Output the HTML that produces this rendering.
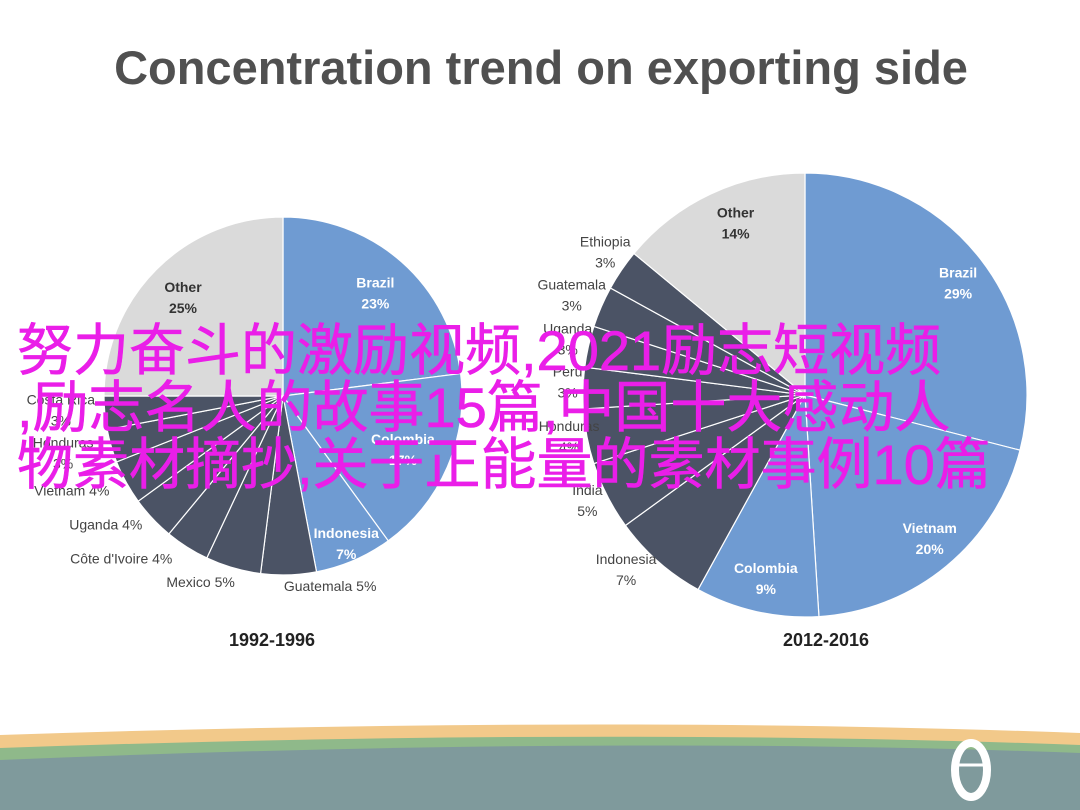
<!DOCTYPE html>
<html><head><meta charset="utf-8">
<style>
html,body{margin:0;padding:0;width:1080px;height:810px;overflow:hidden;background:#fff;font-family:"Liberation Sans","Noto Sans CJK SC",sans-serif;}
#wrap{position:relative;width:1080px;height:810px;}
svg{position:absolute;left:0;top:0;}
#overlay{position:absolute;left:17px;top:322px;font-family:"Liberation Sans","Noto Sans CJK SC",sans-serif;font-size:56px;line-height:57px;color:#ea1ee8;white-space:nowrap;-webkit-text-stroke:0.6px #ea1ee8;}
</style></head><body>
<div id="wrap">
<svg id="chart" width="1080" height="810">
  <path d="M0,735 Q600,715 1080,733 L1080,810 L0,810 Z" fill="#f2c98a"/>
  <path d="M0,748 Q600,727 1080,745 L1080,810 L0,810 Z" fill="#8fb98a"/>
  <path d="M0,760 Q600,735 1080,753 L1080,810 L0,810 Z" fill="#7f9a9c"/>
  <g>
    <ellipse cx="971" cy="770" rx="16" ry="27" fill="none" stroke="#fff" stroke-width="8"/>
    <line x1="957" y1="765" x2="985" y2="765" stroke="#fff" stroke-width="3"/>
  </g>
  <text x="541" y="84" text-anchor="middle" font-size="47" font-weight="bold" fill="#505050">Concentration trend on exporting side</text>
  <text x="272" y="646" text-anchor="middle" font-size="18" font-weight="bold" fill="#222">1992-1996</text>
  <text x="826" y="646" text-anchor="middle" font-size="18" font-weight="bold" fill="#222">2012-2016</text>
</svg>
<div id="overlay">努力奋斗的激励视频,2021励志短视频<br>,励志名人的故事15篇,中国十大感动人<br>物素材摘抄,关于正能量的素材事例10篇</div>
</div>
<script>
// Left pie (1992-1996), clockwise from 12 o'clock
const leftCategories = ["Brazil","Colombia","Indonesia","Guatemala","Mexico","Côte d'Ivoire","Uganda","Vietnam","Honduras","Costa Rica","Other"];
const leftValues = [23,17,7,5,5,4,4,4,3,3,25];
// Right pie (2012-2016)
const rightCategories = ["Brazil","Vietnam","Colombia","Indonesia","India","Honduras","Peru","Uganda","Guatemala","Ethiopia","Other"];
const rightValues = [29,20,9,7,5,4,3,3,3,3,14];

const BLUE="#6f9bd2", DARK="#4b5365", GRAY="#dadada";
const leftStyle = {cx:283, cy:396, r:179,
  colors:[BLUE,BLUE,BLUE,DARK,DARK,DARK,DARK,DARK,DARK,DARK,GRAY],
  rf:[0.78,0.73,0.89,1.09,1.13,1.28,1.22,1.27,1.25,1.23,0.79],
  dx:[0,0,0,41,-26,-39,-18,-12,-5,-3,0],
  dy:[0,0,0,-5,-8,-31,-21,-15,-7,-8,0],
  oneLine:[false,false,false,true,true,true,true,true,false,false,false],
  light:[true,true,true,false,false,false,false,false,false,false,false]};
const rightStyle = {cx:805, cy:395, r:222,
  colors:[BLUE,BLUE,BLUE,DARK,DARK,DARK,DARK,DARK,DARK,DARK,GRAY],
  rf:[0.85,0.86,0.85,1.13,1.09,1.1,1.07,1.1,1.15,1.11,0.84],
  dx:[4,3,2,-13,-2,4,0,1,1,4,10],
  dy:[2,-5,-2,-15,-6,-6,-7,-4,0,-6,-5],
  oneLine:[false,false,false,false,false,false,false,false,false,false,false],
  light:[true,true,true,false,false,false,false,false,false,false,false]};

const svg=document.getElementById('chart');
const NS="http://www.w3.org/2000/svg";
function pt(s,a,rad){return [s.cx+rad*Math.sin(a), s.cy-rad*Math.cos(a)];}
function drawPie(cats,vals,s,prefix){
  const total=vals.reduce((a,b)=>a+b,0);
  let acc=0;
  const g=document.createElementNS(NS,'g');
  
  
  svg.appendChild(g);
  vals.forEach((v,i)=>{
    const a0=acc/total*2*Math.PI; acc+=v; const a1=acc/total*2*Math.PI;
    const p0=pt(s,a0,s.r), p1=pt(s,a1,s.r);
    const large=(a1-a0)>Math.PI?1:0;
    const path=document.createElementNS(NS,'path');
    path.setAttribute('d',`M${s.cx},${s.cy} L${p0[0]},${p0[1]} A${s.r},${s.r} 0 ${large} 1 ${p1[0]},${p1[1]} Z`);
    path.setAttribute('fill',s.colors[i]);
    path.setAttribute('stroke','#fff');
    path.setAttribute('stroke-width','1.2');
    
    
    g.appendChild(path);
  });
  acc=0;
  vals.forEach((v,i)=>{
    const am=(acc+v/2)/total*2*Math.PI; acc+=v;
    const p=pt(s,am,s.r*s.rf[i]);
    const x=p[0]+s.dx[i], y=p[1]+s.dy[i];
    const t=document.createElementNS(NS,'text');
    t.setAttribute('text-anchor','middle');
    t.setAttribute('font-size','14');
    t.setAttribute('fill',s.light[i]?'#fff':(i===vals.length-1?'#333':'#444'));
    if(s.light[i]||i===vals.length-1) t.setAttribute('font-weight','bold');
    
    
    if(s.oneLine[i]){
      t.setAttribute('x',x); t.setAttribute('y',y+5);
      t.textContent=cats[i]+" "+v+"%";
    } else {
      const s1=document.createElementNS(NS,'tspan');
      s1.setAttribute('x',x); s1.setAttribute('y',y-4);
      s1.textContent=cats[i];
      const s2=document.createElementNS(NS,'tspan');
      s2.setAttribute('x',x); s2.setAttribute('y',y+17);
      s2.textContent=v+"%";
      t.appendChild(s1); t.appendChild(s2);
    }
    g.appendChild(t);
  });
}
drawPie(leftCategories,leftValues,leftStyle,'left');
drawPie(rightCategories,rightValues,rightStyle,'right');
</script>
</body></html>
